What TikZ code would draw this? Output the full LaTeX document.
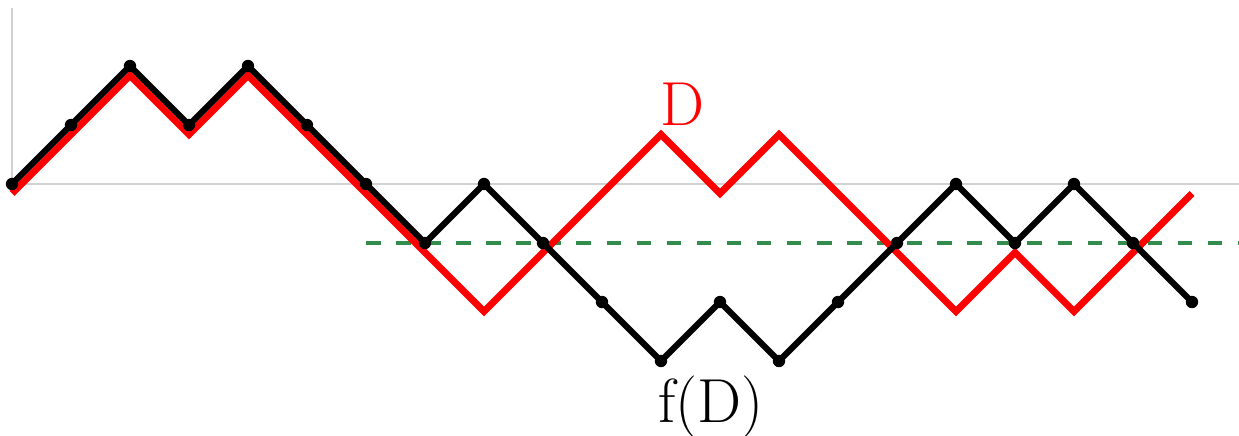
\documentclass[tikz,border=0pt]{standalone}
\usetikzlibrary{calc}
\definecolor{axisgray}{RGB}{210,210,210}
\definecolor{dashgreen}{RGB}{50,140,75}
\definecolor{pathred}{RGB}{255,0,0}
\tikzset{
  axisline/.style={draw=axisgray, line width=0.7pt},
  levelline/.style={draw=dashgreen, line width=1.7pt, dash pattern=on 7pt off 7.5pt},
  redpath/.style={draw=pathred, line width=3.3pt},
  blackpath/.style={draw=black, line width=3pt, line join=round},
  dot/.style={circle, fill=black, inner sep=0pt, minimum size=0.21cm},
  lbl/.style={font=\fontsize{30}{36}\selectfont, inner sep=0pt, anchor=base}
}
\begin{document}
\begin{tikzpicture}[x=1cm,y=1cm]
\useasboundingbox (-0.2034,-4.271) rectangle (20.797,3.119);
% axes
\coordinate (O) at (0,0);
\coordinate (Ytop) at (0,2.98);
\coordinate (Xend) at (20.797,0);
\draw[axisline] (Ytop) -- (O) -- (Xend);
% level line
\coordinate (L0) at (6,-1);
\coordinate (L1) at (20.797,-1);
\draw[levelline] (L0) -- (L1);
% red path D
\def\redys{0,1,2,1,2,1,0,-1,-2,-1,0,1,0,1,0,-1,-2,-1,-2,-1,0}
\foreach \y [count=\i from 0] in \redys {
  \coordinate (r\i) at (\i,\y-0.16);
}
\draw[redpath] (r0) \foreach \i in {1,...,20} { -- (r\i) };
% black path f(D)
\def\blackys{0,1,2,1,2,1,0,-1,0,-1,-2,-3,-2,-3,-2,-1,0,-1,0,-1,-2}
\foreach \y [count=\i from 0] in \blackys {
  \coordinate (b\i) at (\i,\y);
}
\draw[blackpath] (b0) \foreach \i in {1,...,20} { -- (b\i) };
\foreach \i in {0,...,20} { \node[dot] (d\i) at (b\i) {}; }
% labels
\node[lbl, text=pathred] (labD) at (11.37,1.0) {D};
\node[lbl] (labfD) at (11.85,-4.034) {f(D)};
\end{tikzpicture}
\end{document}
